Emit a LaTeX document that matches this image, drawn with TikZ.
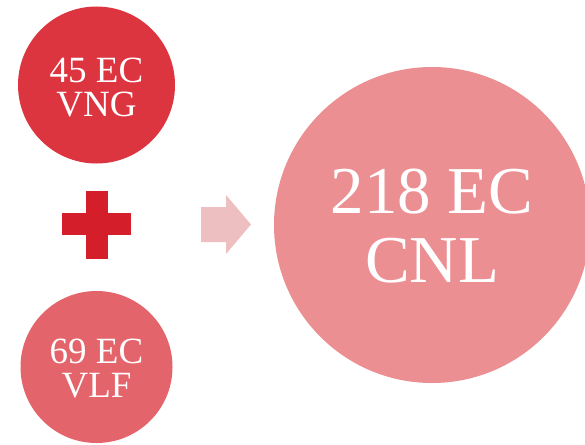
\documentclass[tikz,border=0pt]{standalone}
\usepackage{fontspec}
\setmainfont{Liberation Serif}
\definecolor{cA}{HTML}{DC3540}
\definecolor{cB}{HTML}{E4646B}
\definecolor{cC}{HTML}{EB8F93}
\definecolor{cPlus}{HTML}{D41F2A}
\definecolor{cArrow}{HTML}{EEBFC0}
\tikzset{
  disc/.style={circle, fill=#1, draw=none, inner sep=0pt},
  smalltxt/.style={text=white, align=center, font=\fontsize{37}{34}\selectfont},
  bigtxt/.style={text=white, align=center, font=\fontsize{67}{69}\selectfont},
}
\begin{document}
\begin{tikzpicture}[x=1pt,y=-1pt]
\useasboundingbox (0,0) rectangle (585,444);
\clip (0,0) rectangle (585,444);
% circles
\node[disc=cA, minimum size=157pt] (vng) at (96.5,85) {};
\node[disc=cB, minimum size=152pt] (vlf) at (96.5,367) {};
\node[disc=cC, minimum size=316pt] (cnl) at (432,225) {};
% plus
\fill[cPlus] (62,213) rectangle (131,235);
\fill[cPlus] (86,191) rectangle (108,259);
\coordinate (plus) at (97,224);
% arrow
\fill[cArrow] (201,207) -- (226,207) -- (226,195) -- (251,224.5) -- (226,254) -- (226,242) -- (201,242) -- cycle;
\coordinate (arrow) at (226,224.5);
% texts
\node[smalltxt] (t1) at (96.5,88) {45 EC\\VNG};
\node[smalltxt] (t2) at (96.5,369) {69 EC\\VLF};
\node[bigtxt] (t3) at (432,226) {218 EC\\CNL};
\end{tikzpicture}
\end{document}
